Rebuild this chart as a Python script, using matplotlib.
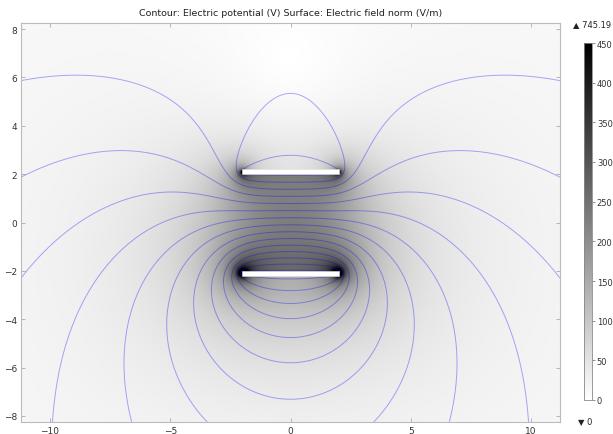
import numpy as np
import matplotlib
matplotlib.use('Agg')
import matplotlib.pyplot as plt
from matplotlib.patches import Rectangle

# ---- model / chart values ----
plate_x = [-2.0, 2.0]          # plate extent (m)
plate_y = [2.1, -2.1]          # plate centre heights (m)
plate_v = [0.0, 1000.0]        # plate potentials (V)
plate_thickness = 0.22
ground_height = 20.0           # grounded boundary above (out of view)
zero_charge_depth = 17.0       # zero-charge boundary below (out of view)
n_levels = 15
x_limits = [-11.2, 11.2]
y_limits = [-8.25, 8.25]
x_ticks = [-10, -5, 0, 5, 10]
y_ticks = [-8, -6, -4, -2, 0, 2, 4, 6, 8]
cbar_ticks = [0, 50, 100, 150, 200, 250, 300, 350, 400, 450]
field_range = [0, 450]
field_max_label = "745.19"
field_min_label = "0"
title = "Contour: Electric potential (V) Surface: Electric field norm (V/m)"


def H_(u, d):
    return 0.5 * (u * np.log(u * u + d * d + 1e-30) - 2 * u + 2 * d * np.arctan2(u, d))


def seg_pot(x, y, a, b, y0):
    d = np.abs(y - y0)
    return H_(x - b, d) - H_(x - a, d)


Hh, Bb = ground_height, zero_charge_depth
L2 = 2 * (Hh + Bb)
M = 6
images = []  # (sign, offset, direction) of image sources, excluding the source itself
for m in range(-M, M + 1):
    s = (-1) ** m
    if m != 0:
        images.append((s, m * L2, 1))
    images.append((-s, m * L2 + 2 * Hh, -1))

N = 90
k = np.arange(N + 1)
edges = plate_x[0] + (plate_x[1] - plate_x[0]) * 0.5 * (1 - np.cos(np.pi * k / N))
segs = np.array([(edges[i], edges[i + 1], yp) for yp in plate_y for i in range(N)])
cx = 0.5 * (segs[:, 0] + segs[:, 1])
cy = segs[:, 2]
ln_ = segs[:, 1] - segs[:, 0]
vt = np.concatenate([np.full(N, plate_v[0]), np.full(N, plate_v[1])])


def kern_full(x, y, j):
    a, b, y0 = segs[j]
    out = seg_pot(x, y, a, b, y0)
    for s, off, dirn in images:
        out = out + s * seg_pot(x, y, a, b, off + dirn * y0)
    return out


A = np.column_stack([kern_full(cx, cy, j) for j in range(2 * N)])
q = np.linalg.solve(A, vt)

xs = np.linspace(x_limits[0], x_limits[1], 449)
ys = np.linspace(y_limits[0], y_limits[1], 331)
X, Y = np.meshgrid(xs, ys)
phi = np.zeros_like(X)
for j in range(2 * N):
    a, b, y0 = segs[j]
    phi += q[j] * seg_pot(X, Y, a, b, y0)
# image charges, grouped into chunks
G = 9
for p in range(2):
    idx = np.arange(p * N, (p + 1) * N)
    for g in np.array_split(idx, G):
        Qg = np.sum(q[g] * ln_[g])
        xg = np.sum(q[g] * ln_[g] * cx[g]) / Qg
        y0 = plate_y[p]
        for s, off, dirn in images:
            yi = off + dirn * y0
            phi += -s * Qg * 0.5 * np.log((X - xg) ** 2 + (Y - yi) ** 2)
Ey, Ex = np.gradient(phi, ys, xs)
E = np.hypot(Ex, Ey)

# ---- figure ----
W, Hpx = 613, 435
fig = plt.figure(figsize=(W / 100, Hpx / 100), dpi=100)
ax = fig.add_axes([21 / W, 1 - 423 / Hpx, (560 - 21) / W, (423 - 24) / Hpx])

im = ax.imshow(E, extent=[xs[0], xs[-1], ys[0], ys[-1]], origin='lower', cmap='gray_r',
               vmin=field_range[0], vmax=field_range[1], aspect='auto', interpolation='bilinear')
levels = plate_v[0] + (plate_v[1] - plate_v[0]) * (np.arange(n_levels) + 0.5) / n_levels
ax.contour(X, Y, phi, levels=levels, colors=[(0.0, 0.0, 1.0)], linewidths=0.7, alpha=0.33)
for yp in plate_y:
    ax.add_patch(Rectangle((plate_x[0], yp - plate_thickness / 2), plate_x[1] - plate_x[0],
                           plate_thickness, facecolor='white', edgecolor='#dddddd', lw=0.4, zorder=5))

ax.set_xlim(x_limits)
ax.set_ylim(y_limits)
ax.set_xticks(x_ticks)
ax.set_yticks(y_ticks)
ax.set_xticklabels([f"{t}".replace('-', '\u2212') for t in x_ticks])
ax.set_yticklabels([f"{t}".replace('-', '\u2212') for t in y_ticks])
ax.tick_params(direction='in', length=3, width=0.6, color='#aaaaaa', labelsize=6.5,
               labelcolor='#333333', top=True, right=True, pad=3)
for s in ax.spines.values():
    s.set_color('#bbbbbb')
    s.set_linewidth(0.8)

fig.text((21 + 560) / 2 / W, 1 - 13 / Hpx, title, ha='center', va='center', fontsize=6.8, color='#222222')

# colour bar
cax = fig.add_axes([584 / W, 1 - 401 / Hpx, 8 / W, (401 - 44) / Hpx])
cb = fig.colorbar(im, cax=cax, ticks=cbar_ticks)
cb.outline.set_edgecolor('#888888')
cb.outline.set_linewidth(0.6)
cax.tick_params(labelsize=6, length=2, width=0.5, color='#666666', labelcolor='#333333', pad=1.5)
fig.text(573 / W, 1 - 25 / Hpx, "\u25B2 " + field_max_label, ha='left', va='center', fontsize=6, color='#222222')
fig.text(578 / W, 1 - 422 / Hpx, "\u25BC " + field_min_label, ha='left', va='center', fontsize=6, color='#222222')

fig.savefig('out.png', dpi=100)
